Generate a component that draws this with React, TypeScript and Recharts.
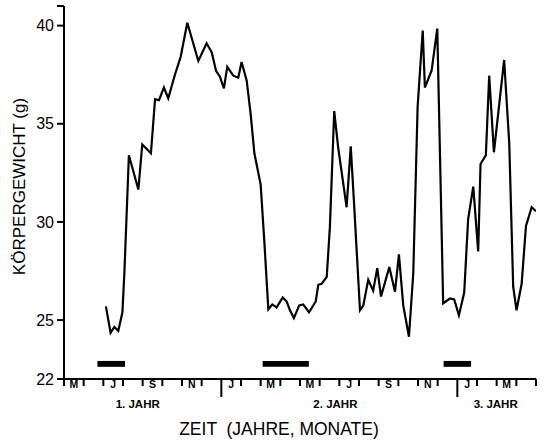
import { ComposedChart, Line, XAxis, YAxis, ReferenceArea } from "recharts";

// time in months since start of May, year 1
const MONTHS = [
  2.13, 2.37, 2.56, 2.76, 2.97, 3.07, 3.3, 3.78, 3.98, 4.42, 4.63, 4.83, 5.08, 5.3, 5.64, 5.93, 6.27,
  6.83, 7.25, 7.51, 7.73, 7.93, 8.13, 8.3, 8.61, 8.86, 9.03, 9.29, 9.49, 9.68, 10.0, 10.18, 10.39,
  10.59, 10.81, 11.12, 11.32, 11.49, 11.69, 11.96, 12.16, 12.46, 12.8, 12.93, 13.1, 13.36, 13.52,
  13.74, 13.94, 14.37, 14.58, 14.74, 15.05, 15.22, 15.47, 15.72, 15.93, 16.12, 16.54, 16.83, 17.03,
  17.25, 17.54, 17.76, 17.98, 18.24, 18.35, 18.69, 18.98, 19.28, 19.62, 19.84, 20.08, 20.35, 20.55,
  20.81, 21.06, 21.18, 21.45, 21.62, 21.86, 22.38, 22.64, 22.84, 23.01, 23.27, 23.49, 23.78, 24.0,
];
// body weight in g
const WEIGHT = [
  25.7, 24.35, 24.65, 24.45, 25.4, 27.4, 33.4, 31.65, 33.95, 33.5, 36.25, 36.2, 36.85, 36.3, 37.5, 38.4, 40.15,
  38.2, 39.1, 38.65, 37.7, 37.4, 36.8, 37.9, 37.45, 37.35, 38.15, 37.2, 35.5, 33.5, 31.9, 29.1, 25.55,
  25.8, 25.65, 26.15, 25.95, 25.5, 25.1, 25.75, 25.8, 25.4, 25.95, 26.8, 26.85, 27.2, 29.75,
  35.65, 33.8, 30.75, 33.85, 31.1, 25.5, 25.75, 27.05, 26.5, 27.65, 26.2, 27.7, 26.45, 28.35,
  25.75, 24.15, 27.4, 35.85, 39.75, 36.85, 37.7, 39.85, 25.85, 26.1, 26.05, 25.25, 26.4, 30.15,
  31.8, 28.5, 32.95, 33.4, 37.45, 33.55, 38.25, 34.0, 26.7, 25.5, 26.85, 29.8, 30.75, 30.55,
];

const MONTH_LABELS = ["M", "", "J", "", "S", "", "N", "", "J", "", "M", "", "M", "", "J", "", "S", "", "N", "", "J", "", "M", ""];
const YEAR_STARTS = [8, 20];
const YEAR_LABELS = [
  { pos: 3.75, text: "1. JAHR" },
  { pos: 13.8, text: "2. JAHR" },
  { pos: 21.95, text: "3. JAHR" },
];
// black bars (months from / to)
const BAR_PERIODS = [
  [1.7, 3.1],
  [10.1, 12.45],
  [19.3, 20.7],
];
const Y_TICKS = [22, 25, 30, 35, 40, 41];

const data = MONTHS.map((m, i) => ({ m, v: WEIGHT[i] }));

const xTicks = [
  ...MONTH_LABELS.map((_, i) => i),
  MONTH_LABELS.length,
  ...MONTH_LABELS.map((l, i) => (l ? i + 0.5 : null)).filter((t) => t !== null),
  ...YEAR_LABELS.map((y) => y.pos),
].sort((a, b) => a - b);

const FONT = "'Liberation Sans', Arial, Helvetica, sans-serif";

function MonthTick(props: any) {
  const { x, y, payload } = props;
  const val = payload.value;
  const year = YEAR_LABELS.find((l) => l.pos === val);
  if (year) {
    return (
      <text x={x} y={y + 29} textAnchor="middle" fontSize={11.5} fontWeight="bold" fill="#000">
        {year.text}
      </text>
    );
  }
  if (Number.isInteger(val)) {
    const len = YEAR_STARTS.includes(val) ? 18 : 7;
    return <line x1={x} x2={x} y1={y} y2={y + len} stroke="#000" strokeWidth={2} />;
  }
  return (
    <text x={x} y={y + 9} textAnchor="middle" fontSize={10.5} fontWeight="bold" fill="#000">
      {MONTH_LABELS[Math.floor(val)]}
    </text>
  );
}

export default function App() {
  return (
    <div style={{ position: "absolute", left: 0, top: 0, background: "#fff", fontFamily: FONT }}>
      <ComposedChart width={544} height={440} data={data} margin={{ top: 6, right: 8, left: 0, bottom: 0 }}>
        <XAxis
          dataKey="m"
          type="number"
          domain={[0, 24]}
          allowDataOverflow
          ticks={xTicks}
          interval={0}
          tick={<MonthTick />}
          tickLine={false}
          tickSize={0}
          tickMargin={0}
          height={61}
          axisLine={{ stroke: "#000", strokeWidth: 2 }}
          label={(p: any) => {
            const vb = p.viewBox;
            return (
              <text
                x={vb.x + vb.width / 2 - 21}
                y={vb.y + vb.height - 5}
                textAnchor="middle"
                fontSize={17.5}
                fill="#000"
                style={{ whiteSpace: "pre" }}
              >
                {"ZEIT  (JAHRE, MONATE)"}
              </text>
            );
          }}
        />
        <YAxis
          type="number"
          domain={[22, 41]}
          ticks={Y_TICKS}
          interval={0}
          width={64}
          tickFormatter={(v) => (v === 41 ? "" : String(v))}
          tick={{ fill: "#000", fontSize: 16 }}
          tickSize={7}
          tickMargin={3}
          tickLine={{ stroke: "#000", strokeWidth: 2 }}
          axisLine={{ stroke: "#000", strokeWidth: 2 }}
          label={(p: any) => {
            const vb = p.viewBox;
            return (
              <text
                x={25}
                y={vb.y + vb.height / 2 - 6}
                transform={`rotate(-90, 25, ${vb.y + vb.height / 2 - 6})`}
                textAnchor="middle"
                fontSize={17}
                fill="#000"
              >
                KÖRPERGEWICHT (g)
              </text>
            );
          }}
        />
        {BAR_PERIODS.map(([a, b], i) => (
          <ReferenceArea key={i} x1={a} x2={b} y1={22.62} y2={22.92} fill="#000" fillOpacity={1} stroke="none" />
        ))}
        <Line
          type="linear"
          dataKey="v"
          stroke="#000"
          strokeWidth={2.2}
          dot={false}
          isAnimationActive={false}
        />
      </ComposedChart>
    </div>
  );
}
